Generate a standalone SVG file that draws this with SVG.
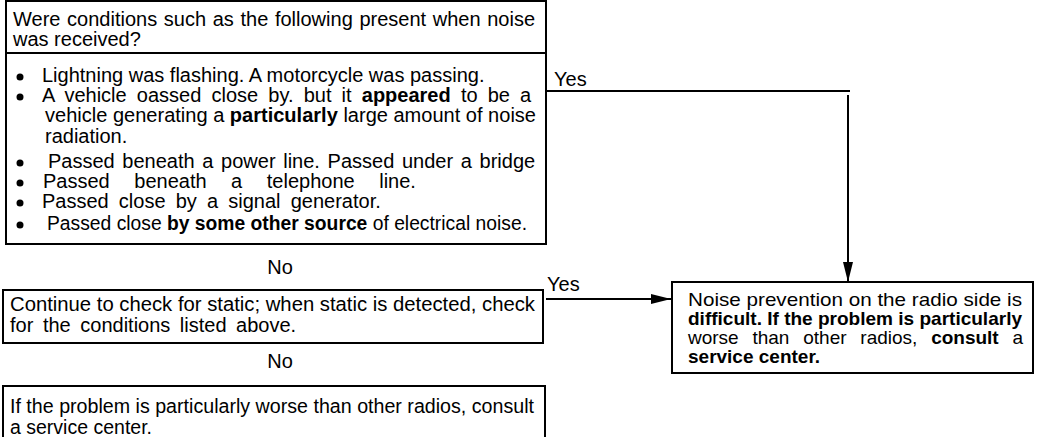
<svg xmlns="http://www.w3.org/2000/svg" width="1037" height="437" viewBox="0 0 1037 437">
<style>
.box{fill:none;stroke:#000;stroke-width:2}
.ln{fill:none;stroke:#000;stroke-width:2}
text{font-family:"Liberation Sans",Arial,sans-serif;font-size:20px;fill:#000}
.r{font-size:19px}
.s{font-size:19.5px}
.b{font-weight:bold}
</style>
<defs>
<marker id="ah" markerUnits="userSpaceOnUse" markerWidth="20" markerHeight="10" refX="20" refY="5" orient="auto">
<path d="M0,0 L20,5 L0,10 Z" fill="#000"/>
</marker>
</defs>
<rect width="1037" height="437" fill="#fff"/>
<g id="n1">
<rect class="box" x="6" y="1" width="540" height="243"/>
<line class="ln" x1="6" y1="53" x2="546" y2="53"/>
<text x="13" y="26" word-spacing="1.1">Were conditions such as the following present when noise</text>
<text x="13" y="46">was received?</text>
<g fill="#000">
<circle cx="20" cy="77" r="3.5"/>
<circle cx="20" cy="97" r="3.5"/>
<circle cx="20" cy="163" r="3.5"/>
<circle cx="20" cy="183" r="3.5"/>
<circle cx="20" cy="203" r="3.5"/>
<circle cx="20" cy="225" r="3.5"/>
</g>
<text x="42" y="82">Lightning was flashing. A motorcycle was passing.</text>
<text x="42" y="102" word-spacing="4.6">A vehicle oassed close by. but it <tspan class="b">appeared</tspan> to be a</text>
<text x="45" y="122" textLength="491" lengthAdjust="spacingAndGlyphs">vehicle generating a <tspan class="b">particularly</tspan> large amount of noise</text>
<text x="45" y="143">radiation.</text>
<text x="48" y="168" word-spacing="2.1">Passed beneath a power line. Passed under a bridge</text>
<text x="43" y="188" word-spacing="19">Passed beneath a telephone line.</text>
<text x="42" y="208" word-spacing="4.6">Passed close by a signal generator.</text>
<text x="47" y="230" textLength="480" lengthAdjust="spacingAndGlyphs">Passed close <tspan class="b">by some other source</tspan> of electrical noise.</text>
</g>
<g id="n2">
<rect class="box" x="3" y="290" width="540" height="53"/>
<text x="10" y="311" textLength="525" lengthAdjust="spacingAndGlyphs">Continue to check for static; when static is detected, check</text>
<text x="10" y="332" word-spacing="4">for the conditions listed above.</text>
</g>
<g id="n3">
<path class="box" d="M3,440 V386 H545 V440"/>
<text class="s" x="10" y="413" textLength="524" lengthAdjust="spacingAndGlyphs">If the problem is particularly worse than other radios, consult</text>
<text class="s" x="10" y="434">a service center.</text>
</g>
<g id="n4">
<rect class="box" x="672" y="282" width="361" height="91"/>
<text class="r" x="688" y="306" textLength="334" lengthAdjust="spacingAndGlyphs">Noise prevention on the radio side is</text>
<text class="r b" x="688" y="325" textLength="334" lengthAdjust="spacingAndGlyphs">difficult. If the problem is particularly</text>
<text class="r" x="688" y="344" word-spacing="8.5">worse than other radios, <tspan class="b">consult</tspan> a</text>
<text class="r b" x="688" y="363">service center.</text>
</g>
<g id="connectors">
<polyline class="ln" points="547,91 850,91"/>
<line class="ln" x1="848" y1="95" x2="848" y2="282" marker-end="url(#ah)"/>
<line class="ln" x1="546" y1="299" x2="671" y2="299" marker-end="url(#ah)"/>
<text x="554" y="86">Yes</text>
<text x="547" y="291">Yes</text>
<text x="280" y="274" text-anchor="middle">No</text>
<text x="280" y="368" text-anchor="middle">No</text>
</g>
</svg>
